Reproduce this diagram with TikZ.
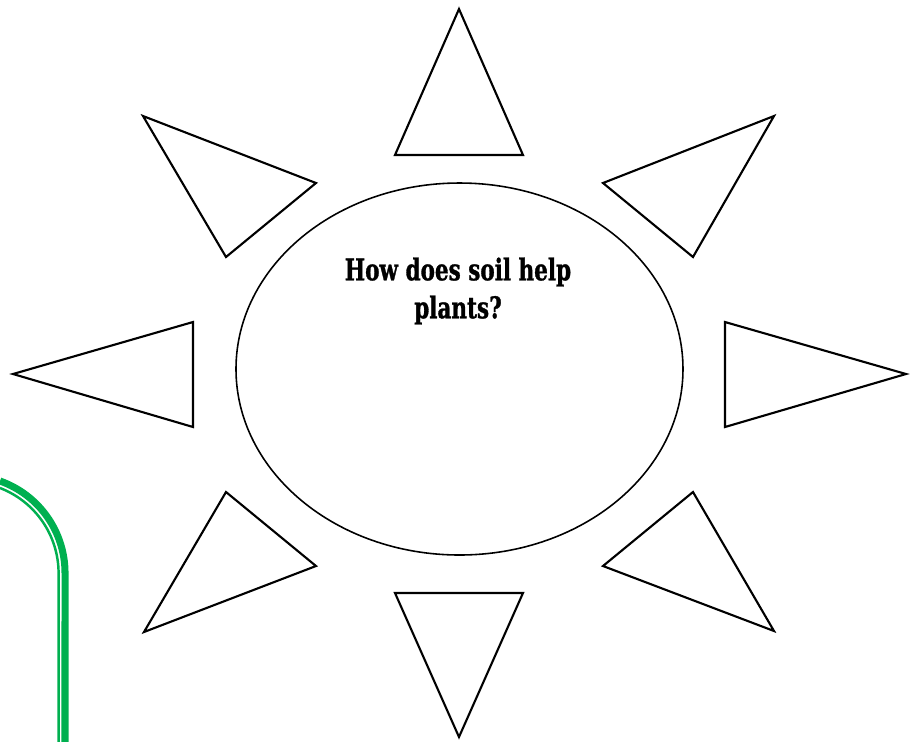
\documentclass[tikz,border=0pt]{standalone}
\usepackage{fontspec}
\newfontfamily\slabfont[FakeStretch=0.72, BoldFeatures={FakeBold=1}]{DejaVu Serif}
\definecolor{leafgreen}{RGB}{0,176,80}
\begin{document}
\begin{tikzpicture}[x=0.01cm, y=-0.01cm, ray/.style={line width=0.6pt, line join=miter}]
\useasboundingbox (0,0) rectangle (914,741);
\coordinate (O) at (459.5,369);
% green frame corner
\draw[leafgreen, line width=2pt] (0,481) arc[start angle=-70.5, end angle=0, radius=97.6] -- (65,760);
\draw[leafgreen, line width=0.7pt] (0,488) arc[start angle=-69, end angle=0, radius=91.3] -- (58.7,760);
% middle
\draw[line width=0.45pt] (O) ellipse[x radius=223.5, y radius=186];
\node[font=\slabfont\bfseries\fontsize{8.5}{10.8}\selectfont, align=center] (q) at (458,291) {How does soil help\\plants?};
% rays
\foreach \ax/\ay/\bx/\by/\cx/\cy in {459/9/395/155/523/155, 459/737/395/593/523/593,
  13/374/193/322/193/427, 906/374/725/322/725/427,
  143/116/316/183/226/257, 774/116/603/183/693/257,
  144/632/226/492/316/566, 774/631/693/492/603/566} {
\draw[ray] (\ax,\ay) -- (\bx,\by) -- (\cx,\cy) -- cycle;}
\end{tikzpicture}
\end{document}
